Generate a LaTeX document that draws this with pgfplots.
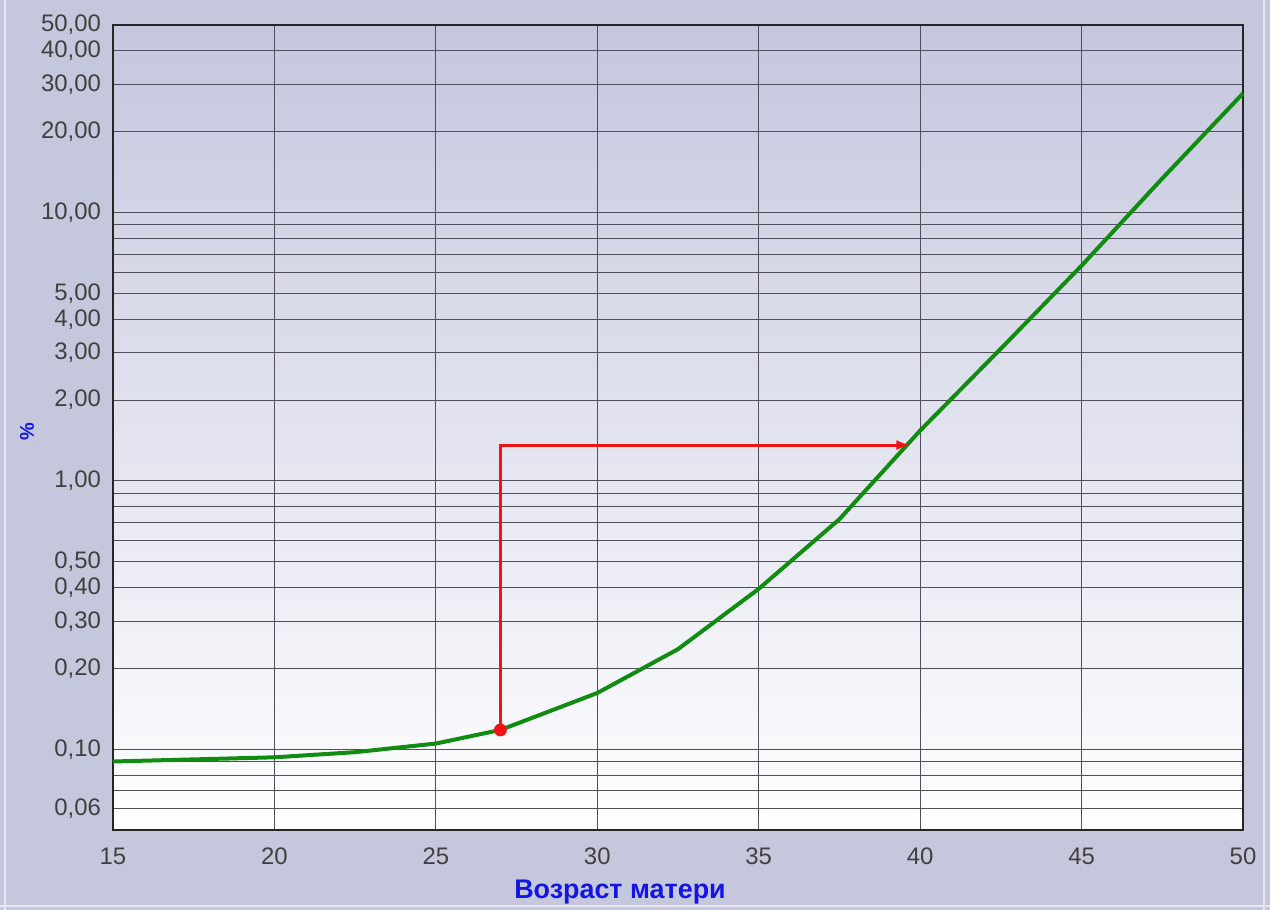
\documentclass[border=0pt]{standalone}
\usepackage{fontspec}
\setmainfont{Liberation Sans}
\usepackage{pgfplots}
\pgfplotsset{compat=1.18}
\usetikzlibrary{arrows.meta}
\definecolor{bgc}{RGB}{197,199,221}
\definecolor{topc}{RGB}{196,199,222}
\definecolor{midc}{RGB}{224,226,237}
\definecolor{gridc}{RGB}{80,80,92}
\definecolor{curvec}{RGB}{16,140,16}
\definecolor{redc}{RGB}{240,20,20}
\definecolor{labblue}{RGB}{20,20,230}
\begin{document}
\begin{tikzpicture}
\fill[bgc] (0,0) rectangle (635bp,455bp);
\useasboundingbox (0,0) rectangle (635bp,455bp);
\draw[white!55!bgc, line width=1bp] (2.5bp,0bp) -- (2.5bp,455bp);
\draw[white!55!bgc, line width=1bp] (632bp,0bp) -- (632bp,455bp);
\draw[white!55!bgc, line width=1bp] (0bp,2bp) -- (635bp,2bp);
\begin{axis}[
  at={(56.5bp,40bp)}, anchor=south west,
  scale only axis, width=565bp, height=402.5bp,
  xmin=15, xmax=50, ymode=log, ymin=0.05, ymax=50,
  xtick={15,20,25,30,35,40,45,50},
  xticklabels={15,20,25,30,35,40,45,50},
  ytick={0.06,0.1,0.2,0.3,0.4,0.5,1,2,3,4,5,10,20,30,40,50},
  yticklabels={{0,06},{0,10},{0,20},{0,30},{0,40},{0,50},{1,00},{2,00},{3,00},{4,00},{5,00},{10,00},{20,00},{30,00},{40,00},{50,00}},
  minor ytick={0.07,0.08,0.09,0.6,0.7,0.8,0.9,6,7,8,9},
  xmajorgrids, ymajorgrids, yminorgrids,
  major grid style={gridc, line width=0.5bp},
  minor grid style={gridc, line width=0.5bp},
  major tick length=0pt, minor tick length=0pt,
  axis line style={black!85, line width=1bp},
  tick label style={font=\fontsize{12}{13}\selectfont, text=black!75},
  xticklabel style={yshift=-5.5bp},
  yticklabel style={xshift=-2.5bp},
  axis background/.style={top color=topc, middle color=midc, bottom color=white},
  clip=false,
]
\addplot[curvec, line width=2bp, line join=round] coordinates {
(15,0.090) (20,0.0933) (22.5,0.0975) (25,0.105) (27,0.118) (30,0.162)
(32.5,0.236) (35,0.396) (37.5,0.72) (40,1.54) (42.5,3.11) (45,6.34)
(47.5,13.4) (50,27.8)};
\addplot[redc, line width=1.5bp, -{Latex[length=7bp,width=5bp]}] coordinates {(27,0.118) (27,1.36) (39.7,1.36)};
\addplot[redc, only marks, mark=*, mark size=3bp] coordinates {(27,0.118)};
\end{axis}
\node[text=labblue, font=\bfseries\fontsize{13.5}{15}\selectfont] at (310bp,9bp) {Возраст матери};
\node[text=labblue, rotate=90, font=\bfseries\fontsize{10}{11}\selectfont] at (13.5bp,239bp) {\%};
\end{tikzpicture}
\end{document}
